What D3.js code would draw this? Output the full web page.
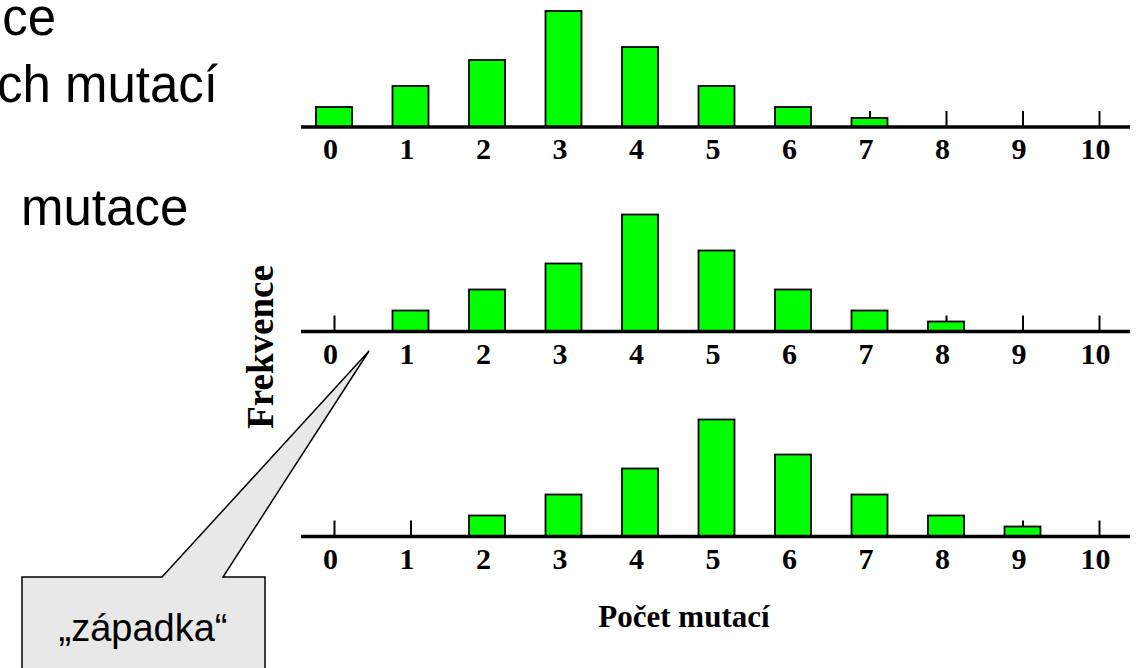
<!DOCTYPE html>
<html>
<head>
<meta charset="utf-8">
<script src="https://cdn.jsdelivr.net/npm/d3@7"></script>
<style>
  body { margin: 0; background: #fff; }
  svg { display: block; }
</style>
</head>
<body>
<div id="chart"></div>
<script>
// data
var mutations = [0, 1, 2, 3, 4, 5, 6, 7, 8, 9, 10];
var freqTop    = [20, 41, 67, 116, 80, 41, 20, 9, 0, 0, 0];
var freqMiddle = [0, 21, 42, 68, 117, 81, 42, 21, 10, 0, 0];
var freqBottom = [0, 0, 21, 42, 68, 117, 82, 42, 21, 10, 0];
var slideLines = ["ce", "ch mutací", "mutace"];
var yTitle = "Frekvence";
var xTitle = "Počet mutací";
var calloutText = "„západka“";

var width = 1136, height = 668;

var svg = d3.select("#chart")
            .append("svg")
            .attr("width", width)
            .attr("height", height);

// slide text that is cut off at the left
var sans = "'Liberation Sans', Arial, sans-serif";
var serif = "'Liberation Serif', 'Times New Roman', serif";

svg.append("text").attr("x", 56).attr("y", 35).attr("text-anchor", "end")
   .style("font-family", sans).style("font-size", "51px").text(slideLines[0]);
svg.append("text").attr("x", 218).attr("y", 102).attr("text-anchor", "end")
   .style("font-family", sans).style("font-size", "51px").text(slideLines[1]);
svg.append("text").attr("x", 21).attr("y", 225)
   .style("font-family", sans).style("font-size", "51px").text(slideLines[2]);

// scales
var x = d3.scaleLinear().domain([0, 10]).range([334, 1099]);
var barW = 36;

var panels = [
  { data: freqTop,    axisY: 127 },
  { data: freqMiddle, axisY: 331.5 },
  { data: freqBottom, axisY: 536.5 }
];

panels.forEach(function(p) {
  var y = d3.scaleLinear().domain([0, 120]).range([p.axisY, p.axisY - 120]);
  var g = svg.append("g");

  // ticks + labels (behind bars)
  var axis = d3.axisBottom(x)
               .tickValues(mutations)
               .tickFormat(d3.format("d"))
               .tickSize(-16)
               .tickPadding(11);

  var ax = g.append("g")
            .attr("transform", "translate(0," + p.axisY + ")")
            .call(axis);
  ax.select(".domain").remove();
  ax.selectAll(".tick line").attr("stroke", "#000").attr("stroke-width", 2);
  ax.selectAll(".tick text")
    .attr("x", -4)
    .attr("fill", "#000")
    .style("font-family", serif)
    .style("font-weight", "bold")
    .style("font-size", "30px");

  // bars
  g.selectAll(".bar")
   .data(mutations.filter(function(d) { return p.data[d] > 0; }))
   .enter()
   .append("rect")
   .attr("class", "bar")
   .attr("x", function(d) { return x(d) - barW / 2; })
   .attr("y", function(d) { return y(p.data[d]); })
   .attr("width", barW)
   .attr("height", function(d) { return y(0) - y(p.data[d]); })
   .attr("fill", "#00ff00")
   .attr("stroke", "#000")
   .attr("stroke-width", 1.8);

  // base line
  g.append("line")
   .attr("x1", 301).attr("x2", 1130)
   .attr("y1", p.axisY).attr("y2", p.axisY)
   .attr("stroke", "#000")
   .attr("stroke-width", 3.5);
});

// axis titles
svg.append("text")
   .attr("transform", "translate(273,347) rotate(-90)")
   .attr("text-anchor", "middle")
   .style("font-family", serif)
   .style("font-weight", "bold")
   .style("font-size", "37px")
   .text(yTitle);

svg.append("text")
   .attr("x", 684).attr("y", 627)
   .attr("text-anchor", "middle")
   .style("font-family", serif)
   .style("font-weight", "bold")
   .style("font-size", "31px")
   .text(xTitle);

// callout
var callout = [[22, 577], [162, 577], [369, 351], [223, 577], [265, 577], [265, 700], [22, 700]];
svg.append("path")
   .attr("d", d3.line()(callout) + "Z")
   .attr("fill", "#e8e8e8")
   .attr("stroke", "#000")
   .attr("stroke-width", 1.5);

svg.append("text")
   .attr("x", 143).attr("y", 641)
   .attr("text-anchor", "middle")
   .style("font-family", sans)
   .style("font-size", "38px")
   .text(calloutText);
</script>
</body>
</html>
